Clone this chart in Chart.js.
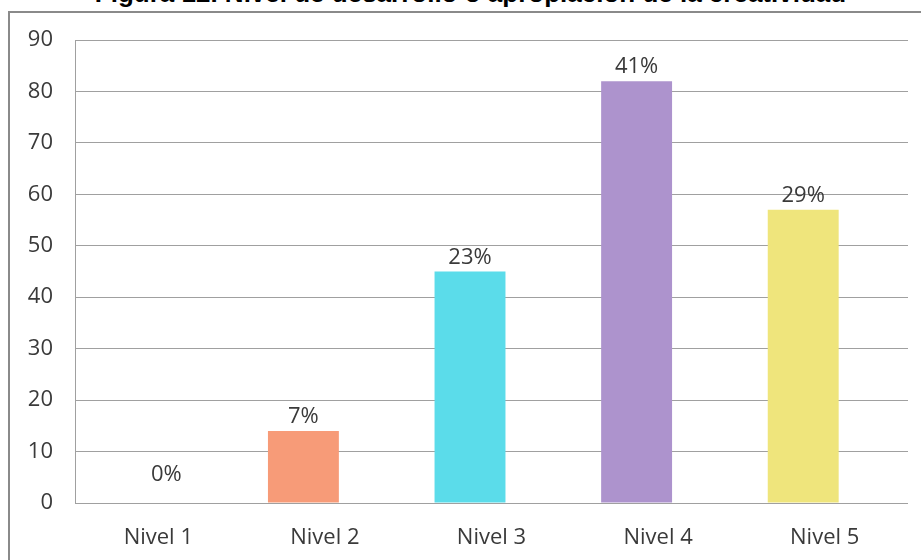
<!DOCTYPE html>
<html lang="es">
<head>
<meta charset="utf-8">
<title>Nivel de desarrollo o apropiación de la creatividad</title>
<script src="https://cdn.jsdelivr.net/npm/chart.js@4/dist/chart.umd.min.js"></script>
<style>
  html, body { margin: 0; padding: 0; background: #fff; }
  body { width: 921px; height: 560px; position: relative; overflow: hidden; }
  #title {
    position: absolute; left: 20px; right: 0; top: -22px;
    text-align: center; white-space: nowrap;
    font: bold 26px "Liberation Sans", Arial, sans-serif; color: #000;
  }
  #frame {
    position: absolute; left: 8px; top: 11px; width: 940px; height: 600px;
    border: 2px solid #8a8a8a;
  }
  #wrap { position: absolute; left: 0; top: 0; width: 921px; height: 560px; }
</style>
</head>
<body>
<div id="title">Figura 12. Nivel de desarrollo o apropiación de la creatividad</div>
<div id="frame"></div>
<div id="wrap"><canvas id="chart"></canvas></div>

<script>
/* global Chart */

// ---------- DATA ----------
const niveles = ['Nivel 1', 'Nivel 2', 'Nivel 3', 'Nivel 4', 'Nivel 5'];
const conteo  = [0, 14, 45, 82, 57];            // students per level
const vacia   = [null, null, null, null, null]; // second (empty) series
const colores = ['#f79b78', '#f79b78', '#5bdcea', '#ad93cd', '#efe57c'];
const yTicks  = [0, 10, 20, 30, 40, 50, 60, 70, 80, 90];

const total = conteo.reduce((a, b) => a + b, 0);
const pct   = conteo.map(v => Math.round(v / total * 100) + '%');

const FONT = { family: '"Open Sans", sans-serif', size: 22 };
const TXT  = '#3a3a3a';

// ---------- percentage labels above bars ----------
const pctLabels = {
  id: 'pctLabels',
  afterDatasetsDraw (chart) {
    const { ctx, scales } = chart;
    const meta = chart.getDatasetMeta(0);
    const base = scales.y.getPixelForValue(0);
    ctx.save();
    ctx.font = `${FONT.size}px ${FONT.family}`;
    ctx.fillStyle = TXT;
    ctx.textAlign = 'center';
    ctx.textBaseline = 'alphabetic';
    meta.data.forEach((bar, i) => {
      if (conteo[i] === 0) {
        // empty bar: label sits over the category
        ctx.fillText(pct[i], scales.x.getPixelForTick(i) + 8, base - 22);
      } else {
        ctx.fillText(pct[i], bar.x, bar.y - 8);
      }
    });
    ctx.restore();
  }
};

new Chart(document.getElementById('chart').getContext('2d'), {
  type: 'bar',
  data: {
    labels: niveles,
    datasets: [
      { label: 'Serie 1', data: conteo, backgroundColor: colores, borderWidth: 0 },
      { label: 'Serie 2', data: vacia,  backgroundColor: '#4f81bd', borderWidth: 0 }
    ]
  },
  options: {
    responsive: true,
    maintainAspectRatio: false,
    animation: false,
    categoryPercentage: 0.516,
    barPercentage: 1.65,
    layout: { padding: { top: 40, right: 13, left: 0, bottom: 0 } },
    plugins: {
      legend: { display: false },
      tooltip: { enabled: false }
    },
    scales: {
      x: {
        grid: { display: false, drawTicks: false },
        border: { display: false },
        ticks: { font: FONT, color: TXT, padding: 22 },
        afterFit: s => { s.height = 57; }
      },
      y: {
        min: 0, max: 90,
        afterBuildTicks: s => { s.ticks = yTicks.map(v => ({ value: v })); },
        grid: { color: '#a0a0a0', lineWidth: 1, drawTicks: false },
        border: { display: true, color: '#a0a0a0', width: 1 },
        ticks: { font: FONT, color: TXT, padding: 22 },
        afterFit: s => { s.width = 75; }
      }
    }
  },
  plugins: [pctLabels]
});
</script>
</body>
</html>
